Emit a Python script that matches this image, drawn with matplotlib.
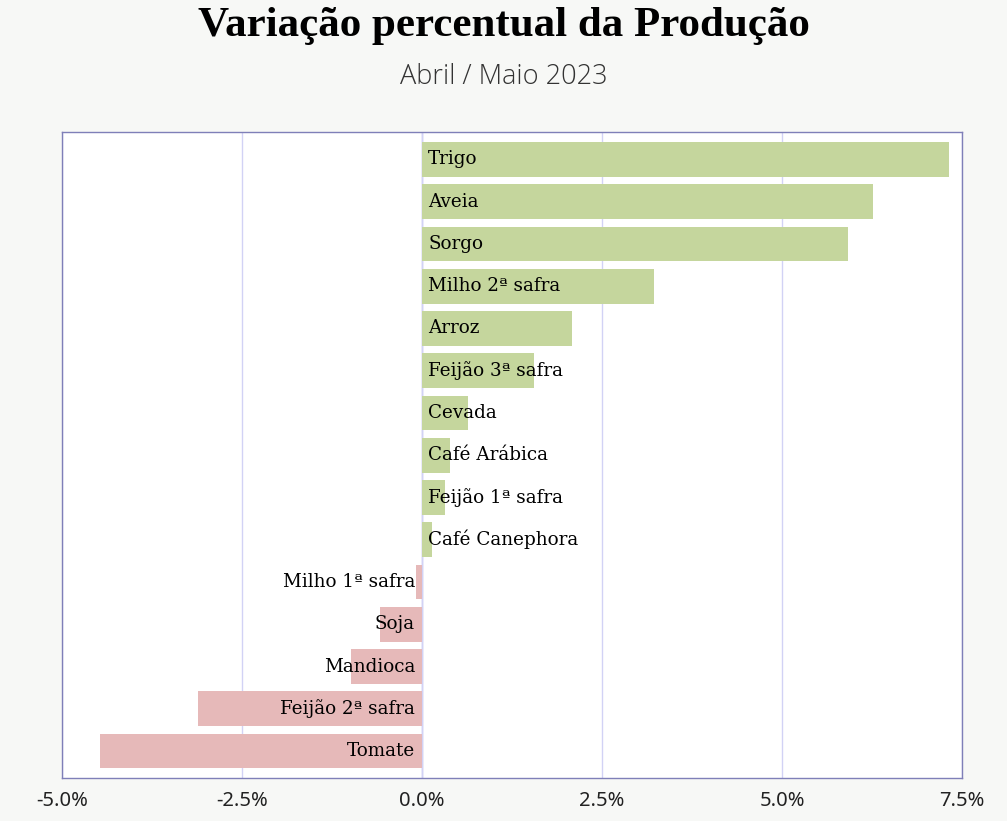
import matplotlib
matplotlib.use("Agg")
import matplotlib.pyplot as plt
from matplotlib.ticker import FuncFormatter

culturas = ["Trigo", "Aveia", "Sorgo", "Milho 2ª safra", "Arroz", "Feijão 3ª safra",
            "Cevada", "Café Arábica", "Feijão 1ª safra", "Café Canephora",
            "Milho 1ª safra", "Soja", "Mandioca", "Feijão 2ª safra", "Tomate"]
variacao = [7.32, 6.27, 5.91, 3.22, 2.09, 1.55, 0.64, 0.39, 0.32, 0.14,
            -0.09, -0.59, -0.99, -3.11, -4.47]
ticks = [-5.0, -2.5, 0.0, 2.5, 5.0, 7.5]

verde = "#c5d69d"
rosa = "#e6b9b9"
fundo = "#f7f8f6"

fig = plt.figure(figsize=(10.07, 8.21), dpi=100, facecolor=fundo)
ax = fig.add_axes([0.0616, 0.0518, 0.8937, 0.7874])

n = len(culturas)
ypos = [n - 1 - i for i in range(n)]
cores = [verde if v >= 0 else rosa for v in variacao]
ax.barh(ypos, variacao, height=0.82, color=cores, zorder=2)

for y, nome, v in zip(ypos, culturas, variacao):
    if v >= 0:
        ax.annotate(nome, (0, y), xytext=(4.5, 0), textcoords="offset points",
                    ha="left", va="center", fontsize=13.2, family="DejaVu Serif", zorder=3)
    else:
        ax.annotate(nome, (0, y), xytext=(-5, 0), textcoords="offset points",
                    ha="right", va="center", fontsize=13.2, family="DejaVu Serif", zorder=3)

ax.set_xlim(-5, 7.5)
ax.set_ylim(-0.65, n - 0.35)
ax.set_xticks(ticks)
ax.xaxis.set_major_formatter(FuncFormatter(lambda x, p: f"{x:.1f}%"))
ax.set_yticks([])
ax.tick_params(axis="x", length=0, pad=9, labelsize=14.5, labelcolor="#222222")
for lbl in ax.get_xticklabels():
    lbl.set_family("Noto Sans")
ax.grid(axis="x", color="#d2d2f5", linewidth=1, zorder=0)
ax.axvline(0, color="#b8b8ee", linewidth=1, zorder=1)
for s in ax.spines.values():
    s.set_color("#7f7fb8")
    s.set_linewidth(1)

fig.text(0.5, 1 - 26 / 821, "Variação percentual da Produção", ha="center", va="center",
         fontsize=31, fontweight="bold", family="Liberation Serif")
fig.text(0.5, 1 - 77 / 821, "Abril / Maio 2023", ha="center", va="center",
         fontsize=19.5, family="Open Sans", fontweight="light", color="#333333")

fig.savefig("out.png", dpi=100, facecolor=fundo)
